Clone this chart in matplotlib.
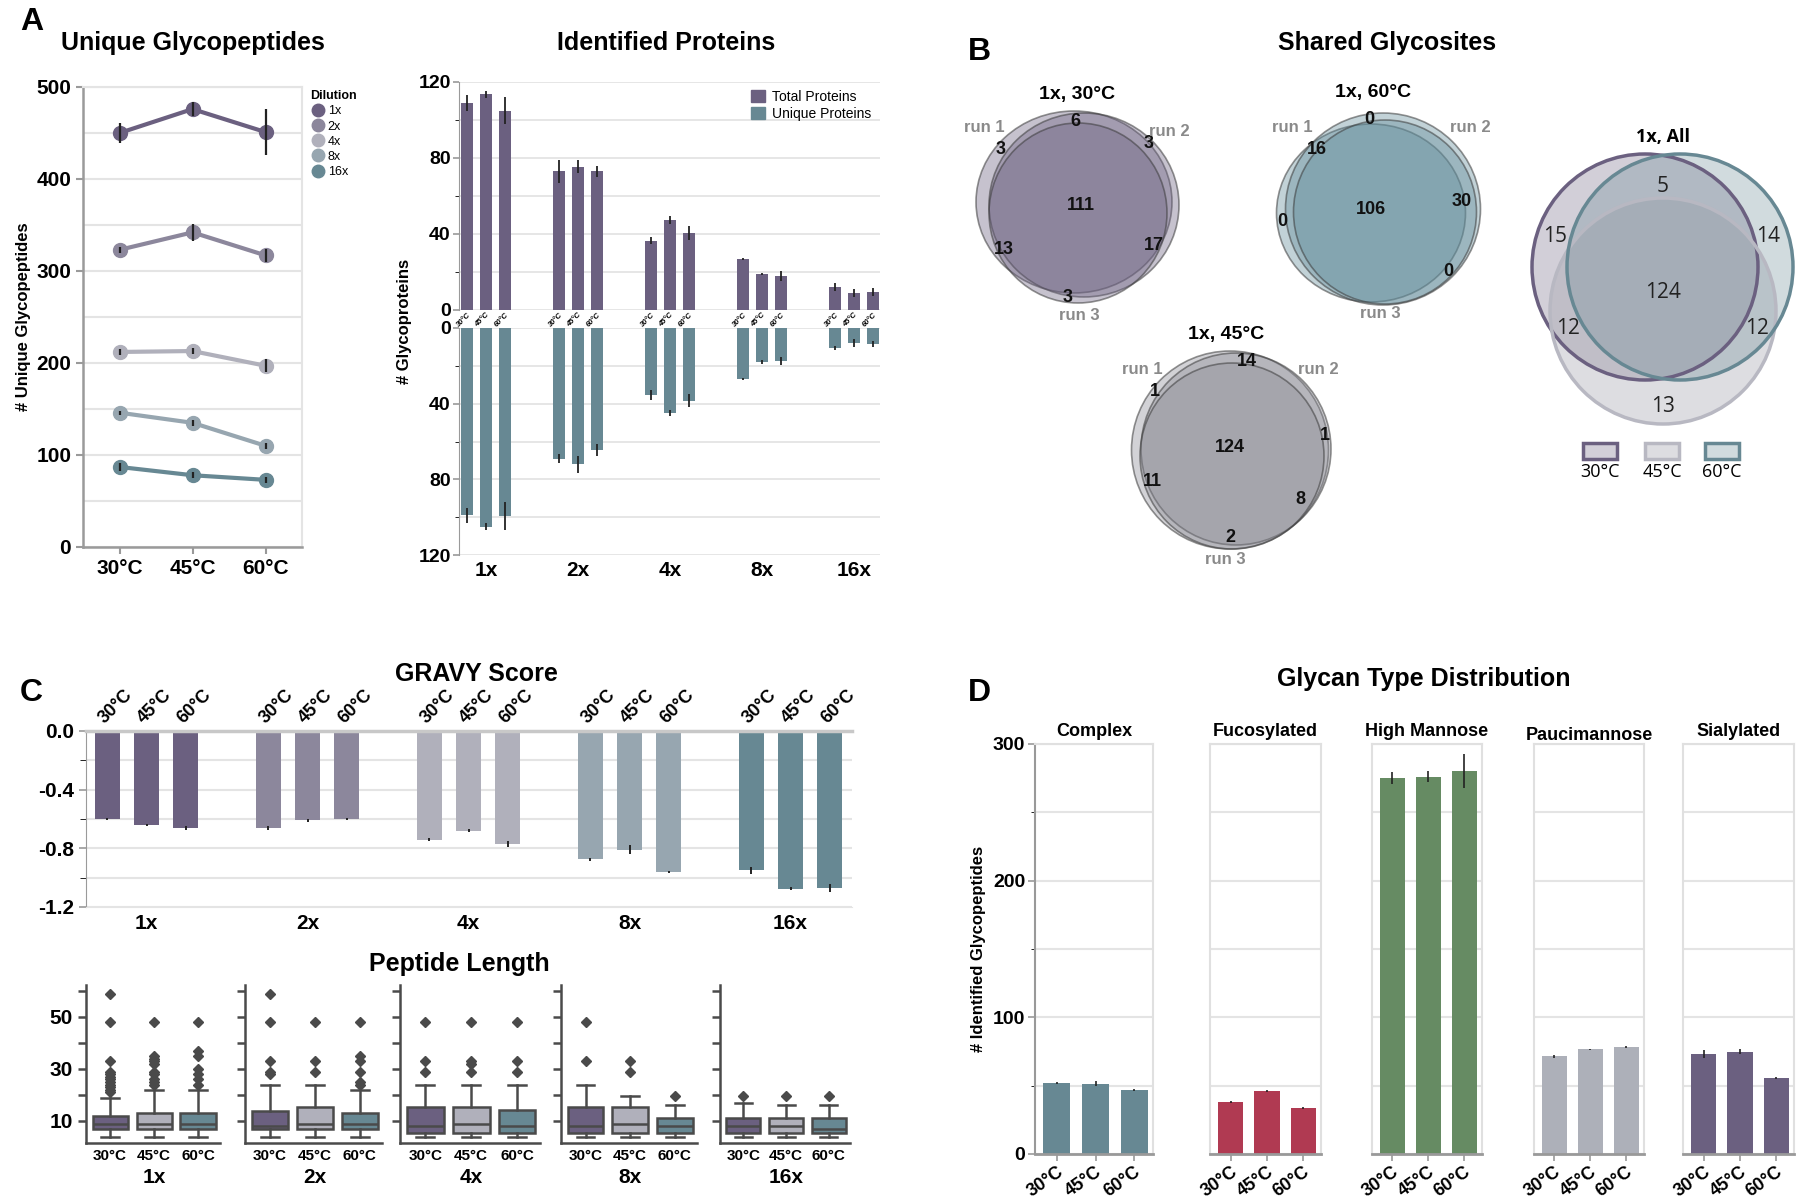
import numpy as np
import matplotlib
matplotlib.use('Agg')
import matplotlib.pyplot as plt
from matplotlib.patches import Ellipse, Circle, Rectangle, Patch
from matplotlib.lines import Line2D
from matplotlib.colors import to_rgba
import matplotlib.transforms as mtrans

W, H = 1800, 1199
plt.rcParams['font.family'] = ['Liberation Sans Narrow', 'Liberation Sans', 'DejaVu Sans']
plt.rcParams['font.weight'] = 'bold'
plt.rcParams['axes.labelweight'] = 'bold'
plt.rcParams['axes.titleweight'] = 'bold'

# ---------------- data ----------------
temps = ['30°C', '45°C', '60°C']
dilutions = ['1x', '2x', '4x', '8x', '16x']
dil_colors = ['#6b6080', '#8c879c', '#b0b0bb', '#97a6b0', '#678893']
temp_colors = ['#6b6080', '#b0b0bb', '#678893']

# unique glycopeptides, rows = dilution, cols = temperature
glyco_mean = [[450, 476, 451], [323, 342, 317], [212, 213, 197], [146, 135, 110], [87, 78, 73]]
glyco_err = [[11, 8, 25], [3, 9, 7], [3, 3, 7], [2, 3, 3], [4, 3, 3]]

# identified proteins
total_prot = [[109, 113.5, 105], [73, 75.5, 73], [36.5, 47.5, 40.5], [27, 19, 18], [12, 9, 9.5]]
total_err = [[4, 2, 7], [6, 3.5, 3], [2, 2, 3.5], [0.5, 0.5, 2.5], [2, 2, 2]]
unique_prot = [[99, 105, 99.5], [69, 72, 64.5], [35.5, 45, 38.5], [27, 18, 17.5], [10.5, 8, 8.5]]
unique_err = [[4, 2, 7.5], [2.5, 4.5, 3], [2.5, 1.5, 3.5], [0.5, 1, 2], [1, 2, 1.5]]

# GRAVY score
gravy = [[-0.60, -0.64, -0.66], [-0.66, -0.61, -0.60], [-0.74, -0.68, -0.77],
         [-0.875, -0.81, -0.96], [-0.95, -1.075, -1.07]]
gravy_err = [[0.005, 0.005, 0.015], [0.015, 0.01, 0.01], [0.01, 0.01, 0.02],
             [0.01, 0.03, 0.005], [0.025, 0.01, 0.025]]

# peptide length box statistics
pep_q1 = [[6.8, 6.8, 6.8], [6.8, 6.8, 6.8], [5.5, 5.5, 5.5], [5.5, 5.5, 5.5], [5.5, 5.5, 5.5]]
pep_med = [[9, 9, 9], [8, 9, 9], [8, 9, 8], [8, 9, 8], [8, 8, 7]]
pep_q3 = [[12, 13, 13], [14, 15.5, 13], [15.5, 15.5, 14.2], [15.5, 15.5, 11], [11, 11, 11]]
pep_lo = [[4, 4, 4], [4, 4, 4], [4, 4, 4], [4, 4, 4], [4, 4, 4]]
pep_hi = [[19, 22, 22], [24, 24, 22], [24, 24, 24], [24, 19.5, 16], [17, 16, 16]]
pep_fliers = [
    [[59, 48, 33, 29, 28, 27, 26, 25, 24, 23, 22, 21], [48, 35, 34, 33, 32, 29, 28, 26, 25, 24],
     [48, 37, 35, 30, 28, 26, 24]],
    [[59, 48, 33, 29, 28], [48, 33, 29], [48, 35, 33, 29, 25, 24]],
    [[48, 33, 29], [48, 33, 32, 29], [48, 33, 29]],
    [[48, 33], [33, 29], [19.5]],
    [[19.5], [19.5], [19.5]],
]

# glycan types
glycan_types = ['Complex', 'Fucosylated', 'High Mannose', 'Paucimannose', 'Sialylated']
glycan_colors = ['#678893', '#b03a52', '#668b63', '#adb0b9', '#6b6080']
glycan_mean = [[52, 51.5, 47], [38, 46, 33.5], [275, 276, 280], [71.5, 76.5, 78.5], [73, 75, 55.5]]
glycan_err = [[0.8, 2, 0.7], [0.7, 0.5, 0.8], [4.5, 4, 12.5], [1, 0.6, 0.7], [3, 2, 0.8]]

# shared glycosites (center, then the outer regions)
venn30 = [111, 6, 3, 3, 13, 17, 3]
venn60 = [106, 0, 16, 0, 30, 0]
venn45 = [124, 14, 1, 1, 11, 8, 2]
venn_all = [124, 5, 15, 14, 12, 12, 13]

fig = plt.figure(figsize=(W / 100, H / 100), dpi=100)

def add_ax(l, t, r, b):
    return fig.add_axes([l / W, 1 - b / H, (r - l) / W, (b - t) / H])

GRID = '#e4e4e4'
SPINE = '#9a9a9a'

# overlay axes in pixel coordinates (titles, letters, venns)
ov = fig.add_axes([0, 0, 1, 1])
ov.set_xlim(0, W)
ov.set_ylim(H, 0)
ov.axis('off')

for letter, (x, y) in zip('ABCD', [(20, 22), (968, 52), (20, 693), (968, 693)]):
    ov.text(x, y, letter, fontsize=23, family='Liberation Sans', ha='left', va='center')
for txt, (x, y) in [('Unique Glycopeptides', (193, 43)), ('Identified Proteins', (666, 43)),
                    ('Shared Glycosites', (1387, 43)), ('GRAVY Score', (476, 674)),
                    ('Peptide Length', (459, 964)), ('Glycan Type Distribution', (1424, 679))]:
    ov.text(x, y, txt, fontsize=18, ha='center', va='center')

# ---------------- A: unique glycopeptides ----------------
ax = add_ax(83, 87, 302, 547)
x = np.arange(3)
for i, d in enumerate(dilutions):
    ax.plot(x, glyco_mean[i], color=dil_colors[i], lw=3, marker='o', ms=10, zorder=2)
    ax.errorbar(x, glyco_mean[i], yerr=glyco_err[i], fmt='none', ecolor='#222', elinewidth=1.6, zorder=3)
ax.set_xlim(-0.5, 2.5)
ax.set_ylim(0, 500)
ax.set_yticks(range(0, 501, 100))
ax.set_yticks(range(50, 500, 100), minor=True)
ax.yaxis.grid(True, which='both', color=GRID, lw=1.5)
ax.set_axisbelow(True)
ax.set_xticks(x)
ax.set_xticklabels(temps)
ax.tick_params(axis='both', labelsize=15, color=SPINE, width=1.5, length=5)
ax.tick_params(axis='y', which='minor', length=0)
for s in ['left', 'bottom']:
    ax.spines[s].set_color(SPINE)
    ax.spines[s].set_linewidth(1.8)
for s in ['top', 'right']:
    ax.spines[s].set_color(GRID)
    ax.spines[s].set_linewidth(1.5)
ax.set_ylabel('# Unique Glycopeptides', family='Liberation Sans', fontsize=12, labelpad=4)
handles = [Line2D([], [], ls='', marker='o', ms=9, color=c) for c in dil_colors]
fig.legend(handles, dilutions, title='Dilution', loc='upper left', bbox_to_anchor=(304 / W, 1 - 84 / H),
           frameon=False, prop={'family': 'Liberation Sans', 'weight': 'normal', 'size': 9},
           title_fontproperties={'family': 'Liberation Sans', 'weight': 'bold', 'size': 9},
           labelspacing=0.25, handletextpad=0.2, handlelength=1.2, borderpad=0, alignment='left')

# ---------------- A: identified proteins ----------------
axT = add_ax(459, 82, 880, 310)
axB = add_ax(459, 328, 880, 555)
xs, tot, tot_e, uni, uni_e, tl = [], [], [], [], [], []
for g in range(5):
    for t in range(3):
        xs.append(g + (t - 1) * 0.2065)
        tot.append(total_prot[g][t]); tot_e.append(total_err[g][t])
        uni.append(unique_prot[g][t]); uni_e.append(unique_err[g][t])
        tl.append(temps[t])
ekw = dict(ecolor='#222', elinewidth=1.3, capsize=0)
axT.bar(xs, tot, 0.125, color='#6b6080', yerr=tot_e, error_kw=ekw, zorder=2)
axB.bar(xs, uni, 0.125, color='#678893', yerr=uni_e, error_kw=ekw, zorder=2)
axT.set_ylim(0, 120)
axB.set_ylim(120, 0)
for a in (axT, axB):
    a.set_xlim(-0.293, 4.283)
    a.set_yticks([0, 40, 80, 120])
    a.set_yticks([20, 60, 100], minor=True)
    a.yaxis.grid(True, which='both', color=GRID, lw=1.3)
    a.set_axisbelow(True)
    a.tick_params(axis='y', labelsize=14, color=SPINE, width=1.2, length=4, pad=2)
    a.tick_params(axis='y', which='minor', length=3)
    for s in ['top', 'right', 'bottom']:
        a.spines[s].set_visible(False)
    a.spines['left'].set_color(SPINE)
axT.set_xticks(xs)
axT.set_xticklabels(tl, rotation=45, fontsize=5.5, style='italic', ha='right', rotation_mode='anchor')
axT.tick_params(axis='x', length=0, pad=1)
axB.set_xticks(range(5))
axB.set_xticklabels(dilutions, fontsize=15)
axB.tick_params(axis='x', length=0, pad=4)
fig.text(404 / W, 1 - 321 / H, '# Glycoproteins', rotation=90, family='Liberation Sans',
         fontsize=12, ha='center', va='center')
fig.legend([Patch(color='#6b6080'), Patch(color='#678893')], ['Total Proteins', 'Unique Proteins'],
           loc='upper left', bbox_to_anchor=(744 / W, 1 - 83 / H), frameon=False,
           prop={'family': 'Liberation Sans', 'weight': 'normal', 'size': 10},
           handlelength=1.0, handleheight=1.0, labelspacing=0.2, handletextpad=0.5, borderpad=0)

# ---------------- B: venn diagrams ----------------
def venn_runs(cx, cy, shapes, color, counts, offs, runs, title):
    for dx, dy, w, h in shapes:
        ov.add_patch(Ellipse((cx + dx, cy + dy), w, h, facecolor=to_rgba(color, 0.38),
                             edgecolor=to_rgba('#3a3a3a', 0.55), lw=1.2))
    for n, (dx, dy) in zip(counts, offs):
        ov.text(cx + dx, cy + dy, str(n), fontsize=13, ha='center', va='center', color='#111')
    for lab, (dx, dy) in zip(['run 1', 'run 2', 'run 3'], runs):
        ov.text(cx + dx, cy + dy, lab, fontsize=12, ha='center', va='center', color='#8a8a8a')
    ov.text(cx + title[0], cy + title[1], title[2], fontsize=14, ha='center', va='center')

venn_runs(1078, 205, [(-4, -3, 196, 182), (6, 0, 190, 184), (0, 8, 178, 180)], '#6b6080', venn30,
          [(3, 0), (-3, -84), (-77, -55), (71, -61), (-74, 45), (76, 40), (-10, 92)],
          [(-94, -78), (91, -74), (1, 111)], (-1, -110, '1x, 30°C'))
venn_runs(1378, 210, [(-7, 3, 189, 178), (5, -1, 195, 192), (7, 2, 183, 184)], '#5f8a98', venn60,
          [(-7, -1), (-9, -90), (-61, -60), (-96, 12), (84, -8), (70, 62)],
          [(-86, -82), (92, -82), (2, 103)], (-5, -117, '1x, 60°C'))
venn_runs(1232, 451, [(-2, -1, 197, 198), (4, -2, 190, 192), (0, 5, 184, 186)], '#8a8a94', venn45,
          [(-2, -4), (15, -89), (-77, -59), (93, -16), (-80, 31), (68, 49), (-2, 87)],
          [(-90, -81), (86, -81), (-7, 109)], (-6, -116, '1x, 45°C'))

all_circles = [((1645, 267), '#6b6080', 0.3), ((1663, 311), '#a0a0aa', 0.35), ((1680, 267), '#678893', 0.3)]
for (c, col, al) in all_circles:
    ov.add_patch(Circle(c, 113, facecolor=to_rgba(col, al), edgecolor='none'))
for (c, col, al) in all_circles:
    ec = '#b8b8c2' if col == '#a0a0aa' else col
    ov.add_patch(Circle(c, 113, facecolor='none', edgecolor=ec, lw=2.5))
for n, (px, py) in zip(venn_all, [(1663, 292), (1663, 187), (1555, 237), (1768, 237),
                                   (1568, 328), (1757, 328), (1663, 407)]):
    ov.text(px, py, str(n), fontsize=15, family='Open Sans', weight='normal', ha='center', va='center',
            color='#222')
ov.text(1663, 137, '1x, All', fontsize=13, family='Open Sans', weight='bold', ha='center', va='center')
for (c, col, al), lx, lab in zip(all_circles, [1600, 1662, 1722], temps):
    ec = '#b8b8c2' if col == '#a0a0aa' else col
    ov.add_patch(Rectangle((lx - 17, 443), 34, 16, facecolor=to_rgba(col, al), edgecolor=ec, lw=2.5))
    ov.text(lx, 472, lab, fontsize=13, family='Open Sans', weight='normal', ha='center', va='center')

# ---------------- C: GRAVY ----------------
axG = add_ax(86, 731, 852, 907)
gx, gv, ge, gc = [], [], [], []
for g in range(5):
    for t in range(3):
        gx.append(g + (t - 1) * 0.245)
        gv.append(gravy[g][t]); ge.append(gravy_err[g][t]); gc.append(dil_colors[g])
axG.bar(gx, gv, 0.155, color=gc, yerr=ge, error_kw=dict(ecolor='#222', elinewidth=1.4), zorder=2)
axG.set_xlim(-0.376, 4.382)
axG.set_ylim(-1.2, 0)
axG.set_yticks([-1.2, -0.8, -0.4, 0.0])
axG.set_yticklabels(['-1.2', '-0.8', '-0.4', '0.0'])
axG.set_yticks([-1.0, -0.6, -0.2], minor=True)
axG.yaxis.grid(True, which='both', color=GRID, lw=1.5)
axG.set_axisbelow(True)
axG.tick_params(axis='y', labelsize=15, color=SPINE, width=1.2, length=5)
axG.tick_params(axis='y', which='minor', length=4)
axG.set_xticks(gx)
axG.set_xticklabels(tl, rotation=45, fontsize=13, ha='left', rotation_mode='anchor')
axG.tick_params(axis='x', top=True, labeltop=True, bottom=False, labelbottom=False, length=0, pad=3)
axG.spines['right'].set_visible(False)
axG.spines['bottom'].set_color(GRID)
axG.spines['top'].set_color('#c8c8c8')
axG.spines['top'].set_linewidth(2.5)
axG.spines['left'].set_color(SPINE)
trG = mtrans.blended_transform_factory(axG.transData, axG.transAxes)
for g, d in enumerate(dilutions):
    axG.text(g, -0.04, d, transform=trG, fontsize=15, ha='center', va='top')

# ---------------- C: peptide length ----------------
box_px = [(86, 220), (245, 382), (400, 540), (561, 697), (720, 850)]
for g, (l, r) in enumerate(box_px):
    a = add_ax(l, 985, r, 1143)
    stats = []
    for t in range(3):
        stats.append(dict(q1=pep_q1[g][t], med=pep_med[g][t], q3=pep_q3[g][t],
                          whislo=pep_lo[g][t], whishi=pep_hi[g][t], fliers=pep_fliers[g][t]))
    bp = a.bxp(stats, positions=[0, 1, 2], widths=0.8, patch_artist=True, showcaps=True,
               boxprops=dict(edgecolor='#4a4a4a', lw=1.8),
               medianprops=dict(color='#4a4a4a', lw=1.8),
               whiskerprops=dict(color='#4a4a4a', lw=1.8),
               capprops=dict(color='#4a4a4a', lw=1.8),
               flierprops=dict(marker='D', markerfacecolor='#4a4a4a', markeredgecolor='#4a4a4a', markersize=5))
    for patch, c in zip(bp['boxes'], temp_colors):
        patch.set_facecolor(c)
    a.set_xlim(-0.55, 2.5)
    a.set_ylim(1.5, 62.3)
    a.set_yticks(range(10, 61, 10))
    if g == 0:
        a.set_yticklabels(['10', '', '30', '', '50', ''])
    else:
        a.set_yticklabels([])
    a.set_xticks([0, 1, 2])
    a.set_xticklabels(temps, fontsize=11)
    a.tick_params(axis='y', labelsize=15, color='#4a4a4a', width=1.8, length=6)
    a.tick_params(axis='x', length=0, pad=4)
    for s in ['top', 'right']:
        a.spines[s].set_visible(False)
    for s in ['left', 'bottom']:
        a.spines[s].set_color('#4a4a4a')
        a.spines[s].set_linewidth(1.8)
    a.text(1, -0.16, dilutions[g], transform=mtrans.blended_transform_factory(a.transData, a.transAxes),
           fontsize=15, ha='center', va='top')

# ---------------- D: glycan types ----------------
glyc_px = [(1035, 1153), (1210, 1321), (1372, 1482), (1534, 1644), (1683, 1794)]
for k, (l, r) in enumerate(glyc_px):
    a = add_ax(l, 744, r, 1154)
    a.bar(range(3), glycan_mean[k], 0.7, color=glycan_colors[k], yerr=glycan_err[k],
          error_kw=dict(ecolor='#222', elinewidth=1.2), zorder=2)
    a.set_xlim(-0.57, 2.49)
    a.set_ylim(0, 300)
    a.set_yticks([0, 100, 200, 300])
    a.set_yticks([50, 150, 250], minor=True)
    a.yaxis.grid(True, which='both', color=GRID, lw=1.5)
    a.set_axisbelow(True)
    a.set_xticks(range(3))
    a.set_xticklabels(temps, rotation=35, ha='right', rotation_mode='anchor', fontsize=13)
    a.tick_params(axis='x', color='#999999', length=5, width=1.2, pad=2)
    for s in ['top', 'right', 'left']:
        a.spines[s].set_color('#e0e0e0')
        a.spines[s].set_linewidth(1.5)
    a.spines['bottom'].set_color('#999999')
    a.spines['bottom'].set_linewidth(2)
    if k == 0:
        a.spines['left'].set_color('#999999')
        a.tick_params(axis='y', labelsize=14, color='#999999', width=1.2, length=5, pad=2)
        a.tick_params(axis='y', which='minor', length=3)
    else:
        a.tick_params(axis='y', which='both', length=0, labelleft=False)
    a.set_title(glycan_types[k], fontsize=13, pad=6 if k != 3 else 2)
fig.text(978 / W, 1 - 949 / H, '# Identified Glycopeptides', rotation=90, family='Liberation Sans',
         fontsize=12, ha='center', va='center')

fig.savefig('out.png', dpi=100)
